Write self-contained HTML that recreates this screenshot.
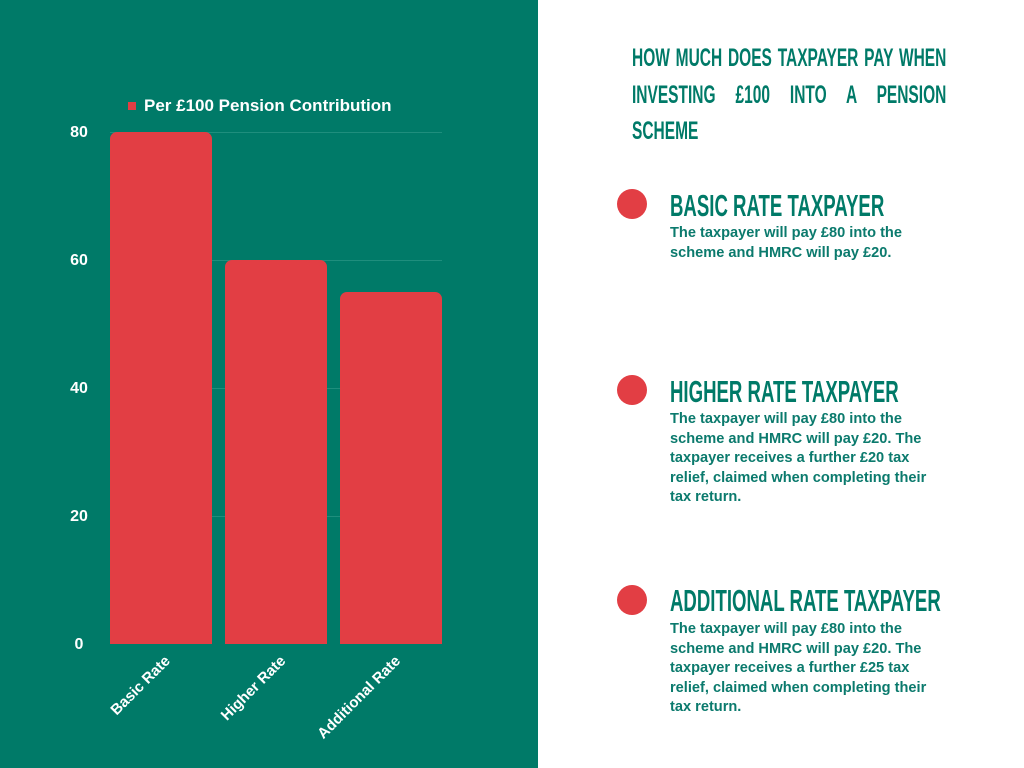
<!DOCTYPE html>
<html><head><meta charset="utf-8"><style>
body{margin:0;width:1024px;height:768px;position:relative;background:#fff;font-family:"Liberation Sans",sans-serif;overflow:hidden}
.left{position:absolute;left:0;top:0;width:538px;height:768px;background:#007A68}
.t{position:absolute;color:#fff;font-weight:bold}
.bar{position:absolute;background:#E23E44;border-radius:7px 7px 0 0}
.grid{position:absolute;left:110px;width:332px;height:1px;background:#1f8e7d}
.ylab{position:absolute;left:60px;width:38px;text-align:center;color:#fff;font-weight:bold;font-size:16px}
.xl{position:absolute;color:#fff;font-weight:bold;font-size:15px;transform-origin:right center;transform:rotate(-45deg);white-space:nowrap;text-align:right}
.cond{position:absolute;color:#007A68;font-weight:bold;transform-origin:left top;white-space:nowrap}
.dot{position:absolute;width:30px;height:30px;border-radius:50%;background:#E23E44}
.body{position:absolute;left:670px;color:#0b7a6d;font-weight:bold;font-size:14.6px;line-height:19.5px;width:300px;white-space:nowrap}
</style></head><body>
<div class="left"></div>
<div style="position:absolute;left:128px;top:102px;width:8px;height:8px;background:#E23E44"></div>
<div class="t" style="left:144px;top:96px;font-size:17px">Per £100 Pension Contribution</div>
<div class="grid" style="top:132px"></div><div class="grid" style="top:260px"></div><div class="grid" style="top:388px"></div><div class="grid" style="top:516px"></div>
<div class="ylab" style="top:124px">80</div><div class="ylab" style="top:252px">60</div><div class="ylab" style="top:380px">40</div><div class="ylab" style="top:508px">20</div><div class="ylab" style="top:636px">0</div>
<div class="bar" style="left:110px;top:132px;width:102px;height:512px"></div>
<div class="bar" style="left:225px;top:260px;width:102px;height:384px"></div>
<div class="bar" style="left:340px;top:292px;width:102px;height:352px"></div>
<div class="xl" style="right:856px;top:650px">Basic Rate</div>
<div class="xl" style="right:741px;top:650px">Higher Rate</div>
<div class="xl" style="right:626px;top:650px">Additional Rate</div>

<div class="cond" style="left:632px;top:44px;font-size:25px;transform:scaleX(0.62)"><span style="display:inline-block;width:507px;text-align:justify;text-align-last:justify">HOW MUCH DOES TAXPAYER PAY WHEN</span></div>
<div class="cond" style="left:632px;top:81px;font-size:25px;transform:scaleX(0.62)"><span style="display:inline-block;width:507px;text-align:justify;text-align-last:justify">INVESTING £100 INTO A PENSION</span></div>
<div class="cond" style="left:632px;top:117px;font-size:25px;transform:scaleX(0.62)">SCHEME</div>

<div class="dot" style="left:617px;top:189px"></div>
<div class="cond" style="left:670px;top:188px;font-size:31px;transform:scaleX(0.6)">BASIC RATE TAXPAYER</div>
<div class="body" style="top:224px">The taxpayer will pay £80 into the<br>scheme and HMRC will pay £20.</div>

<div class="dot" style="left:617px;top:375px"></div>
<div class="cond" style="left:670px;top:374px;font-size:31px;transform:scaleX(0.6)">HIGHER RATE TAXPAYER</div>
<div class="body" style="top:410px">The taxpayer will pay £80 into the<br>scheme and HMRC will pay £20. The<br>taxpayer receives a further £20 tax<br>relief, claimed when completing their<br>tax return.</div>

<div class="dot" style="left:617px;top:585px"></div>
<div class="cond" style="left:670px;top:583px;font-size:31px;transform:scaleX(0.6)">ADDITIONAL RATE TAXPAYER</div>
<div class="body" style="top:620px">The taxpayer will pay £80 into the<br>scheme and HMRC will pay £20. The<br>taxpayer receives a further £25 tax<br>relief, claimed when completing their<br>tax return.</div>
</body></html>
